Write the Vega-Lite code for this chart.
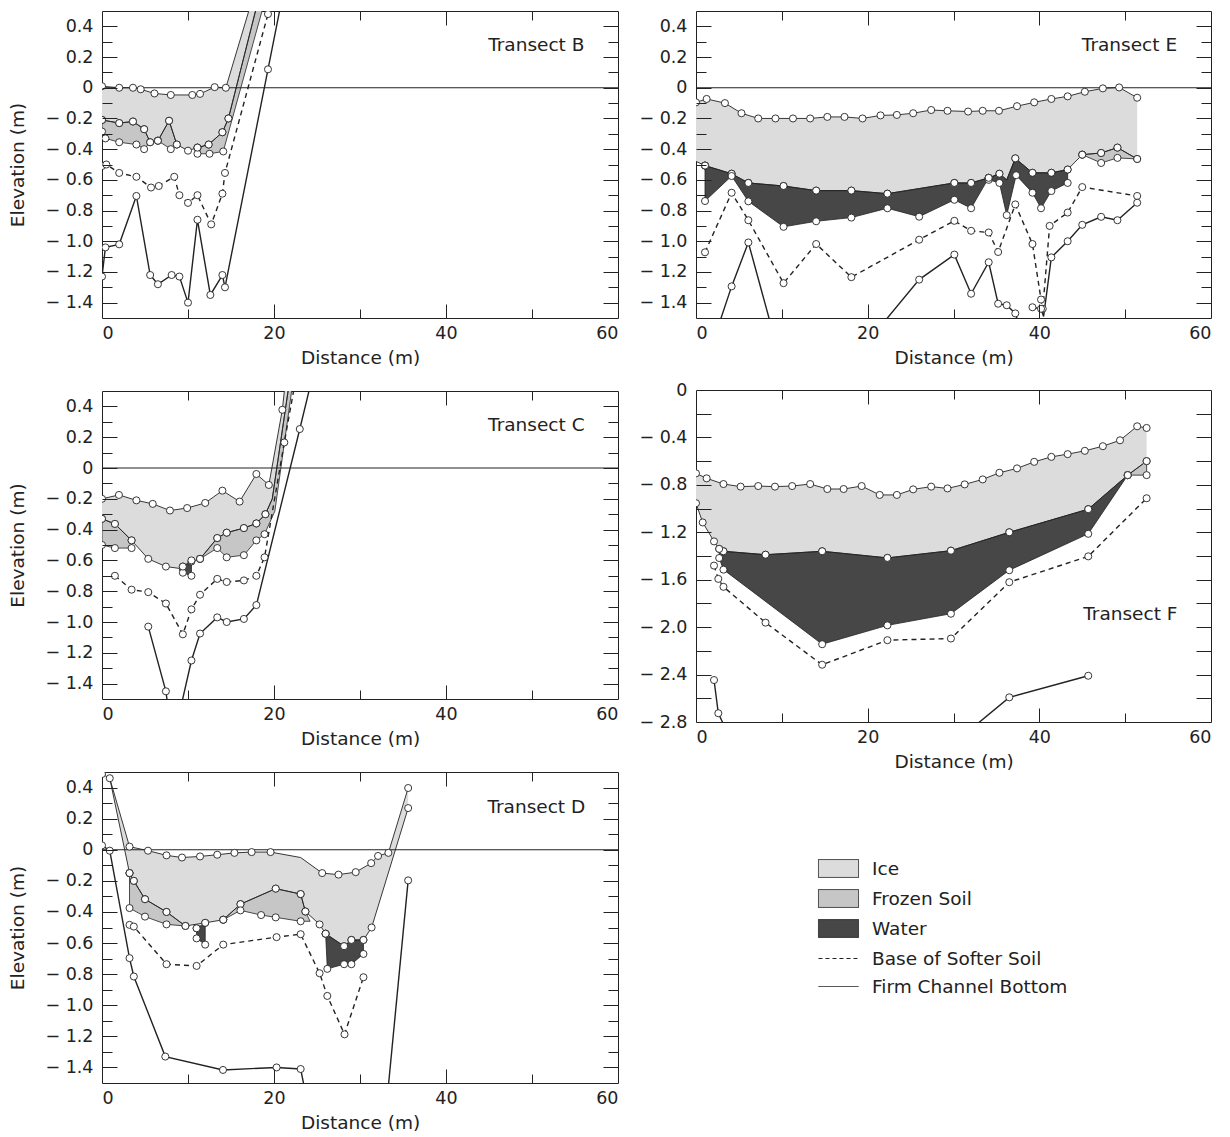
{
"$schema": "https://vega.github.io/schema/vega-lite/v6.json",
"padding": {"left": 8, "top": 10, "right": 5, "bottom": 2},
"config": {
 "font": "DejaVu Sans",
 "view": {"stroke": "#222", "strokeWidth": 1},
 "axis": {"domain": false, "grid": false, "labelFont": "DejaVu Sans", "labelFontSize": 17.5, "labelColor": "#222", "titleFont": "DejaVu Sans", "titleFontSize": 18.5, "titleFontWeight": "normal", "titleColor": "#222", "tickColor": "#222", "tickWidth": 1}
},
"datasets": {
"d": [
{"t":"B","s":"top","x":0,"y":0.01},{"t":"B","s":"top","x":2,"y":0},{"t":"B","s":"top","x":3.6,"y":0},{"t":"B","s":"top","x":4.5,"y":-0.01},{"t":"B","s":"top","x":6.1,"y":-0.037},{"t":"B","s":"top","x":8,"y":-0.047},{"t":"B","s":"top","x":10.5,"y":-0.047},{"t":"B","s":"top","x":11.4,"y":-0.04},{"t":"B","s":"top","x":13.1,"y":0.004},{"t":"B","s":"top","x":14.4,"y":0},{"t":"B","s":"top","x":17.6,"y":0.6,"n":1},
{"t":"B","s":"bot","x":18.3,"y":0.6,"n":1},{"t":"B","s":"bot","x":14.7,"y":-0.2},{"t":"B","s":"bot","x":14,"y":-0.29},{"t":"B","s":"bot","x":12.4,"y":-0.37},{"t":"B","s":"bot","x":11.1,"y":-0.39},{"t":"B","s":"bot","x":10,"y":-0.41},{"t":"B","s":"bot","x":8.7,"y":-0.37},{"t":"B","s":"bot","x":7.8,"y":-0.215},{"t":"B","s":"bot","x":6.5,"y":-0.345},{"t":"B","s":"bot","x":5.6,"y":-0.355},{"t":"B","s":"bot","x":4.9,"y":-0.27},{"t":"B","s":"bot","x":3.6,"y":-0.22},{"t":"B","s":"bot","x":2,"y":-0.23},{"t":"B","s":"bot","x":0,"y":-0.21},
{"t":"B","s":"soil1","x":0,"y":-0.21},{"t":"B","s":"soil1","x":2,"y":-0.23},{"t":"B","s":"soil1","x":3.6,"y":-0.22},{"t":"B","s":"soil1","x":4.9,"y":-0.27},{"t":"B","s":"soil1","x":5.6,"y":-0.355},{"t":"B","s":"soil1","x":4.9,"y":-0.4},{"t":"B","s":"soil1","x":4,"y":-0.37},{"t":"B","s":"soil1","x":2,"y":-0.355},{"t":"B","s":"soil1","x":0.4,"y":-0.33},{"t":"B","s":"soil1","x":0,"y":-0.285},{"t":"B","s":"soil1","x":0,"y":-0.21},
{"t":"B","s":"soil2","x":6.5,"y":-0.345},{"t":"B","s":"soil2","x":7.8,"y":-0.215},{"t":"B","s":"soil2","x":8.7,"y":-0.37},{"t":"B","s":"soil2","x":8,"y":-0.4},{"t":"B","s":"soil2","x":6.5,"y":-0.345},
{"t":"B","s":"soil3","x":11.1,"y":-0.39},{"t":"B","s":"soil3","x":12.4,"y":-0.37},{"t":"B","s":"soil3","x":14,"y":-0.29},{"t":"B","s":"soil3","x":14.7,"y":-0.2},{"t":"B","s":"soil3","x":18.3,"y":0.6,"n":1},{"t":"B","s":"soil3","x":19.1,"y":0.6,"n":1},{"t":"B","s":"soil3","x":14.1,"y":-0.415},{"t":"B","s":"soil3","x":12.5,"y":-0.43},{"t":"B","s":"soil3","x":11.1,"y":-0.43},{"t":"B","s":"soil3","x":11.1,"y":-0.39},
{"t":"B","s":"soft","x":0,"y":-0.51},{"t":"B","s":"soft","x":0.5,"y":-0.5},{"t":"B","s":"soft","x":2,"y":-0.555},{"t":"B","s":"soft","x":4,"y":-0.58},{"t":"B","s":"soft","x":5.7,"y":-0.65},{"t":"B","s":"soft","x":6.6,"y":-0.64},{"t":"B","s":"soft","x":8.4,"y":-0.58},{"t":"B","s":"soft","x":9,"y":-0.7},{"t":"B","s":"soft","x":10,"y":-0.75},{"t":"B","s":"soft","x":11.1,"y":-0.7},{"t":"B","s":"soft","x":12.7,"y":-0.89},{"t":"B","s":"soft","x":14,"y":-0.69},{"t":"B","s":"soft","x":14.3,"y":-0.555},{"t":"B","s":"soft","x":19.3,"y":0.48},{"t":"B","s":"soft","x":20,"y":0.63,"n":1},
{"t":"B","s":"firm","x":0,"y":-1.23},{"t":"B","s":"firm","x":0.4,"y":-1.04},{"t":"B","s":"firm","x":2,"y":-1.02},{"t":"B","s":"firm","x":4,"y":-0.705},{"t":"B","s":"firm","x":5.6,"y":-1.22},{"t":"B","s":"firm","x":6.5,"y":-1.28},{"t":"B","s":"firm","x":8.1,"y":-1.22},{"t":"B","s":"firm","x":9,"y":-1.23},{"t":"B","s":"firm","x":10,"y":-1.4},{"t":"B","s":"firm","x":11.1,"y":-0.86},{"t":"B","s":"firm","x":12.6,"y":-1.35},{"t":"B","s":"firm","x":14,"y":-1.22},{"t":"B","s":"firm","x":14.3,"y":-1.3},{"t":"B","s":"firm","x":19.3,"y":0.12},{"t":"B","s":"firm","x":21,"y":0.6,"n":1},

{"t":"E","s":"top","x":0,"y":-0.095},{"t":"E","s":"top","x":1.24,"y":-0.073},{"t":"E","s":"top","x":3.37,"y":-0.1},{"t":"E","s":"top","x":5.3,"y":-0.166},{"t":"E","s":"top","x":7.25,"y":-0.2},{"t":"E","s":"top","x":9.26,"y":-0.2},{"t":"E","s":"top","x":11.3,"y":-0.2},{"t":"E","s":"top","x":13.3,"y":-0.2},{"t":"E","s":"top","x":15.3,"y":-0.19},{"t":"E","s":"top","x":17.3,"y":-0.19},{"t":"E","s":"top","x":19.4,"y":-0.2},{"t":"E","s":"top","x":21.5,"y":-0.18},{"t":"E","s":"top","x":23.4,"y":-0.177},{"t":"E","s":"top","x":25.3,"y":-0.166},{"t":"E","s":"top","x":27.4,"y":-0.145},{"t":"E","s":"top","x":29.3,"y":-0.15},{"t":"E","s":"top","x":31.7,"y":-0.155},{"t":"E","s":"top","x":33.4,"y":-0.15},{"t":"E","s":"top","x":35.3,"y":-0.15},{"t":"E","s":"top","x":37.4,"y":-0.12},{"t":"E","s":"top","x":39.4,"y":-0.095},{"t":"E","s":"top","x":41.4,"y":-0.073},{"t":"E","s":"top","x":43.3,"y":-0.056},{"t":"E","s":"top","x":45.3,"y":-0.026},{"t":"E","s":"top","x":47.4,"y":-0.004},{"t":"E","s":"top","x":49.3,"y":0.002},{"t":"E","s":"top","x":51.4,"y":-0.065},
{"t":"E","s":"bot","x":51.4,"y":-0.464},{"t":"E","s":"bot","x":49.1,"y":-0.39},{"t":"E","s":"bot","x":47.2,"y":-0.425},{"t":"E","s":"bot","x":45,"y":-0.436},{"t":"E","s":"bot","x":43.3,"y":-0.533},{"t":"E","s":"bot","x":41.4,"y":-0.554},{"t":"E","s":"bot","x":39.2,"y":-0.554},{"t":"E","s":"bot","x":37.2,"y":-0.46},{"t":"E","s":"bot","x":36.2,"y":-0.6,"n":1},{"t":"E","s":"bot","x":35.35,"y":-0.56},{"t":"E","s":"bot","x":34.1,"y":-0.587},{"t":"E","s":"bot","x":32.05,"y":-0.62},{"t":"E","s":"bot","x":30.1,"y":-0.62},{"t":"E","s":"bot","x":22.3,"y":-0.69},{"t":"E","s":"bot","x":18.1,"y":-0.67},{"t":"E","s":"bot","x":14,"y":-0.67},{"t":"E","s":"bot","x":10.2,"y":-0.64},{"t":"E","s":"bot","x":6.1,"y":-0.62},{"t":"E","s":"bot","x":4.15,"y":-0.56},{"t":"E","s":"bot","x":1.05,"y":-0.507},{"t":"E","s":"bot","x":0,"y":-0.48,"n":1},
{"t":"E","s":"water1","x":1.05,"y":-0.507},{"t":"E","s":"water1","x":4.15,"y":-0.56},{"t":"E","s":"water1","x":6.1,"y":-0.62},{"t":"E","s":"water1","x":10.2,"y":-0.64},{"t":"E","s":"water1","x":14,"y":-0.67},{"t":"E","s":"water1","x":18.1,"y":-0.67},{"t":"E","s":"water1","x":22.3,"y":-0.69},{"t":"E","s":"water1","x":30.1,"y":-0.62},{"t":"E","s":"water1","x":32.05,"y":-0.62},{"t":"E","s":"water1","x":34.1,"y":-0.587},{"t":"E","s":"water1","x":32.05,"y":-0.785},{"t":"E","s":"water1","x":30.1,"y":-0.73},{"t":"E","s":"water1","x":26,"y":-0.84},{"t":"E","s":"water1","x":22.3,"y":-0.785},{"t":"E","s":"water1","x":18.1,"y":-0.846},{"t":"E","s":"water1","x":14,"y":-0.87},{"t":"E","s":"water1","x":10.2,"y":-0.906},{"t":"E","s":"water1","x":6.1,"y":-0.74},{"t":"E","s":"water1","x":4.15,"y":-0.575},{"t":"E","s":"water1","x":1.05,"y":-0.738},{"t":"E","s":"water1","x":1.05,"y":-0.507},
{"t":"E","s":"water2","x":34.1,"y":-0.587},{"t":"E","s":"water2","x":35.35,"y":-0.56},{"t":"E","s":"water2","x":36.2,"y":-0.6,"n":1},{"t":"E","s":"water2","x":37.2,"y":-0.46},{"t":"E","s":"water2","x":39.2,"y":-0.554},{"t":"E","s":"water2","x":41.4,"y":-0.554},{"t":"E","s":"water2","x":43.3,"y":-0.533},{"t":"E","s":"water2","x":43.3,"y":-0.62},{"t":"E","s":"water2","x":41.4,"y":-0.673},{"t":"E","s":"water2","x":40.2,"y":-0.785},{"t":"E","s":"water2","x":39.2,"y":-0.684},{"t":"E","s":"water2","x":37.3,"y":-0.57},{"t":"E","s":"water2","x":36.2,"y":-0.83},{"t":"E","s":"water2","x":35.35,"y":-0.62},{"t":"E","s":"water2","x":34.1,"y":-0.6},{"t":"E","s":"water2","x":34.1,"y":-0.587},
{"t":"E","s":"soil1","x":45,"y":-0.436},{"t":"E","s":"soil1","x":47.2,"y":-0.425},{"t":"E","s":"soil1","x":49.1,"y":-0.39},{"t":"E","s":"soil1","x":51.4,"y":-0.464},{"t":"E","s":"soil1","x":49.1,"y":-0.457},{"t":"E","s":"soil1","x":47.2,"y":-0.49},{"t":"E","s":"soil1","x":45,"y":-0.436},
{"t":"E","s":"soft","x":1.05,"y":-1.072},{"t":"E","s":"soft","x":4.15,"y":-0.684},{"t":"E","s":"soft","x":6.1,"y":-0.863},{"t":"E","s":"soft","x":10.2,"y":-1.273},{"t":"E","s":"soft","x":14,"y":-1.018},{"t":"E","s":"soft","x":18.1,"y":-1.234},{"t":"E","s":"soft","x":26,"y":-0.99},{"t":"E","s":"soft","x":30.1,"y":-0.867},{"t":"E","s":"soft","x":32.05,"y":-0.932},{"t":"E","s":"soft","x":34.1,"y":-0.943},{"t":"E","s":"soft","x":35.2,"y":-1.07},{"t":"E","s":"soft","x":37.2,"y":-0.76},{"t":"E","s":"soft","x":39.2,"y":-1.018},{"t":"E","s":"soft","x":40.2,"y":-1.38},{"t":"E","s":"soft","x":40.4,"y":-1.44},{"t":"E","s":"soft","x":41.2,"y":-0.9},{"t":"E","s":"soft","x":43.3,"y":-0.813},{"t":"E","s":"soft","x":45,"y":-0.647},{"t":"E","s":"soft","x":51.4,"y":-0.705},
{"t":"E","s":"firm1","x":2.8,"y":-1.52,"n":1},{"t":"E","s":"firm1","x":4.15,"y":-1.294},{"t":"E","s":"firm1","x":6.1,"y":-1.008},{"t":"E","s":"firm1","x":8.6,"y":-1.52,"n":1},
{"t":"E","s":"firm2","x":22,"y":-1.52,"n":1},{"t":"E","s":"firm2","x":26,"y":-1.25},{"t":"E","s":"firm2","x":30.1,"y":-1.087},{"t":"E","s":"firm2","x":32.05,"y":-1.342},{"t":"E","s":"firm2","x":34.1,"y":-1.137},{"t":"E","s":"firm2","x":35.2,"y":-1.407},{"t":"E","s":"firm2","x":36.2,"y":-1.417},{"t":"E","s":"firm2","x":37.2,"y":-1.47},{"t":"E","s":"firm2","x":37.5,"y":-1.52,"n":1},
{"t":"E","s":"firm3","x":39.2,"y":-1.43},{"t":"E","s":"firm3","x":40.2,"y":-1.44},{"t":"E","s":"firm3","x":40.5,"y":-1.49,"n":1},{"t":"E","s":"firm3","x":41.4,"y":-1.105},{"t":"E","s":"firm3","x":43.3,"y":-1},{"t":"E","s":"firm3","x":45,"y":-0.893},{"t":"E","s":"firm3","x":47.2,"y":-0.841},{"t":"E","s":"firm3","x":49.1,"y":-0.863},{"t":"E","s":"firm3","x":51.4,"y":-0.749},

{"t":"C","s":"top","x":0,"y":-0.2},{"t":"C","s":"top","x":1.97,"y":-0.175},{"t":"C","s":"top","x":4,"y":-0.21},{"t":"C","s":"top","x":5.9,"y":-0.233},{"t":"C","s":"top","x":7.9,"y":-0.276},{"t":"C","s":"top","x":9.9,"y":-0.26},{"t":"C","s":"top","x":12,"y":-0.227},{"t":"C","s":"top","x":14,"y":-0.147},{"t":"C","s":"top","x":16,"y":-0.218},{"t":"C","s":"top","x":17.95,"y":-0.039},{"t":"C","s":"top","x":19.4,"y":-0.11},{"t":"C","s":"top","x":20.97,"y":0.378},{"t":"C","s":"top","x":21.4,"y":0.6,"n":1},
{"t":"C","s":"bot","x":21.9,"y":0.6,"n":1},{"t":"C","s":"bot","x":19.8,"y":-0.2,"n":1},{"t":"C","s":"bot","x":19,"y":-0.3},{"t":"C","s":"bot","x":17.95,"y":-0.36},{"t":"C","s":"bot","x":16.5,"y":-0.39},{"t":"C","s":"bot","x":14.5,"y":-0.42},{"t":"C","s":"bot","x":13.4,"y":-0.455},{"t":"C","s":"bot","x":11.4,"y":-0.59},{"t":"C","s":"bot","x":10.4,"y":-0.607},{"t":"C","s":"bot","x":9.4,"y":-0.655},{"t":"C","s":"bot","x":7.43,"y":-0.64},{"t":"C","s":"bot","x":5.38,"y":-0.59},{"t":"C","s":"bot","x":3.44,"y":-0.47},{"t":"C","s":"bot","x":1.5,"y":-0.363},{"t":"C","s":"bot","x":0,"y":-0.33,"n":1},
{"t":"C","s":"soil1","x":0,"y":-0.33},{"t":"C","s":"soil1","x":1.5,"y":-0.363},{"t":"C","s":"soil1","x":3.44,"y":-0.47},{"t":"C","s":"soil1","x":3.44,"y":-0.52},{"t":"C","s":"soil1","x":1.5,"y":-0.52},{"t":"C","s":"soil1","x":0,"y":-0.5},{"t":"C","s":"soil1","x":0,"y":-0.33},
{"t":"C","s":"soil2","x":11.4,"y":-0.59},{"t":"C","s":"soil2","x":13.4,"y":-0.455},{"t":"C","s":"soil2","x":14.5,"y":-0.42},{"t":"C","s":"soil2","x":16.5,"y":-0.39},{"t":"C","s":"soil2","x":17.95,"y":-0.36},{"t":"C","s":"soil2","x":19,"y":-0.3},{"t":"C","s":"soil2","x":19.8,"y":-0.2,"n":1},{"t":"C","s":"soil2","x":21.9,"y":0.6,"n":1},{"t":"C","s":"soil2","x":22.3,"y":0.6,"n":1},{"t":"C","s":"soil2","x":20.1,"y":-0.28,"n":1},{"t":"C","s":"soil2","x":18.9,"y":-0.43},{"t":"C","s":"soil2","x":17.95,"y":-0.47},{"t":"C","s":"soil2","x":16.5,"y":-0.566},{"t":"C","s":"soil2","x":14.5,"y":-0.58},{"t":"C","s":"soil2","x":13.4,"y":-0.52},{"t":"C","s":"soil2","x":11.4,"y":-0.59},
{"t":"C","s":"water1","x":9.4,"y":-0.64},{"t":"C","s":"water1","x":10.4,"y":-0.6},{"t":"C","s":"water1","x":10.4,"y":-0.7},{"t":"C","s":"water1","x":9.4,"y":-0.68},{"t":"C","s":"water1","x":9.4,"y":-0.64},
{"t":"C","s":"soft","x":1.5,"y":-0.7},{"t":"C","s":"soft","x":3.44,"y":-0.79},{"t":"C","s":"soft","x":5.38,"y":-0.806},{"t":"C","s":"soft","x":7.43,"y":-0.88},{"t":"C","s":"soft","x":9.4,"y":-1.08},{"t":"C","s":"soft","x":10.4,"y":-0.918},{"t":"C","s":"soft","x":11.4,"y":-0.823},{"t":"C","s":"soft","x":13.4,"y":-0.72},{"t":"C","s":"soft","x":14.5,"y":-0.74},{"t":"C","s":"soft","x":16.5,"y":-0.73},{"t":"C","s":"soft","x":17.95,"y":-0.7},{"t":"C","s":"soft","x":18.9,"y":-0.58},{"t":"C","s":"soft","x":21.2,"y":0.166},{"t":"C","s":"soft","x":22.6,"y":0.6,"n":1},
{"t":"C","s":"firm1","x":5.38,"y":-1.03},{"t":"C","s":"firm1","x":7.43,"y":-1.45},{"t":"C","s":"firm1","x":7.6,"y":-1.52,"n":1},
{"t":"C","s":"firm2","x":9.3,"y":-1.52,"n":1},{"t":"C","s":"firm2","x":10.4,"y":-1.25},{"t":"C","s":"firm2","x":11.4,"y":-1.075},{"t":"C","s":"firm2","x":13.4,"y":-0.97},{"t":"C","s":"firm2","x":14.5,"y":-1},{"t":"C","s":"firm2","x":16.5,"y":-0.98},{"t":"C","s":"firm2","x":17.95,"y":-0.89},{"t":"C","s":"firm2","x":23,"y":0.253},{"t":"C","s":"firm2","x":24.5,"y":0.6,"n":1},

{"t":"F","s":"top","x":0,"y":-0.703},{"t":"F","s":"top","x":1.24,"y":-0.745},{"t":"F","s":"top","x":3.2,"y":-0.793},{"t":"F","s":"top","x":5.2,"y":-0.815},{"t":"F","s":"top","x":7.25,"y":-0.81},{"t":"F","s":"top","x":9.2,"y":-0.815},{"t":"F","s":"top","x":11.2,"y":-0.81},{"t":"F","s":"top","x":13.3,"y":-0.793},{"t":"F","s":"top","x":15.3,"y":-0.835},{"t":"F","s":"top","x":17.2,"y":-0.835},{"t":"F","s":"top","x":19.3,"y":-0.81},{"t":"F","s":"top","x":21.4,"y":-0.885},{"t":"F","s":"top","x":23.4,"y":-0.885},{"t":"F","s":"top","x":25.3,"y":-0.838},{"t":"F","s":"top","x":27.4,"y":-0.815},{"t":"F","s":"top","x":29.3,"y":-0.83},{"t":"F","s":"top","x":31.3,"y":-0.796},{"t":"F","s":"top","x":33.4,"y":-0.754},{"t":"F","s":"top","x":35.35,"y":-0.698},{"t":"F","s":"top","x":37.4,"y":-0.661},{"t":"F","s":"top","x":39.4,"y":-0.606},{"t":"F","s":"top","x":41.4,"y":-0.564},{"t":"F","s":"top","x":43.3,"y":-0.541},{"t":"F","s":"top","x":45.3,"y":-0.513},{"t":"F","s":"top","x":47.4,"y":-0.474},{"t":"F","s":"top","x":49.4,"y":-0.424},{"t":"F","s":"top","x":51.4,"y":-0.306},{"t":"F","s":"top","x":52.5,"y":-0.32},
{"t":"F","s":"bot","x":52.5,"y":-0.6},{"t":"F","s":"bot","x":50.3,"y":-0.718},{"t":"F","s":"bot","x":45.7,"y":-1.005},{"t":"F","s":"bot","x":36.5,"y":-1.2},{"t":"F","s":"bot","x":29.7,"y":-1.355},{"t":"F","s":"bot","x":22.3,"y":-1.416},{"t":"F","s":"bot","x":14.7,"y":-1.36},{"t":"F","s":"bot","x":8.1,"y":-1.389},{"t":"F","s":"bot","x":3.2,"y":-1.36},{"t":"F","s":"bot","x":2.7,"y":-1.34,"n":1},{"t":"F","s":"bot","x":2.1,"y":-1.277},{"t":"F","s":"bot","x":0.78,"y":-1.117},{"t":"F","s":"bot","x":0,"y":-0.955},
{"t":"F","s":"water1","x":2.7,"y":-1.34},{"t":"F","s":"water1","x":3.2,"y":-1.36},{"t":"F","s":"water1","x":8.1,"y":-1.389},{"t":"F","s":"water1","x":14.7,"y":-1.36},{"t":"F","s":"water1","x":22.3,"y":-1.416},{"t":"F","s":"water1","x":29.7,"y":-1.355},{"t":"F","s":"water1","x":36.5,"y":-1.2},{"t":"F","s":"water1","x":45.7,"y":-1.005},{"t":"F","s":"water1","x":50.3,"y":-0.718},{"t":"F","s":"water1","x":45.7,"y":-1.213},{"t":"F","s":"water1","x":36.5,"y":-1.52},{"t":"F","s":"water1","x":29.7,"y":-1.887},{"t":"F","s":"water1","x":22.3,"y":-1.985},{"t":"F","s":"water1","x":14.7,"y":-2.144},{"t":"F","s":"water1","x":3.2,"y":-1.515},{"t":"F","s":"water1","x":2.7,"y":-1.417},{"t":"F","s":"water1","x":2.7,"y":-1.34},
{"t":"F","s":"soil1","x":50.3,"y":-0.718},{"t":"F","s":"soil1","x":52.5,"y":-0.6},{"t":"F","s":"soil1","x":52.5,"y":-0.718},{"t":"F","s":"soil1","x":50.3,"y":-0.718},
{"t":"F","s":"soft","x":2.1,"y":-1.481},{"t":"F","s":"soft","x":2.6,"y":-1.593},{"t":"F","s":"soft","x":3.2,"y":-1.66},{"t":"F","s":"soft","x":8.1,"y":-1.962},{"t":"F","s":"soft","x":14.7,"y":-2.317},{"t":"F","s":"soft","x":22.3,"y":-2.11},{"t":"F","s":"soft","x":29.7,"y":-2.096},{"t":"F","s":"soft","x":36.5,"y":-1.621},{"t":"F","s":"soft","x":45.7,"y":-1.403},{"t":"F","s":"soft","x":52.5,"y":-0.913},
{"t":"F","s":"firm1","x":2.1,"y":-2.446},{"t":"F","s":"firm1","x":2.6,"y":-2.726},{"t":"F","s":"firm1","x":3.4,"y":-2.85,"n":1},
{"t":"F","s":"firm2","x":32.2,"y":-2.85,"n":1},{"t":"F","s":"firm2","x":36.5,"y":-2.592},{"t":"F","s":"firm2","x":45.7,"y":-2.41},

{"t":"D","s":"top","x":0,"y":0.487},{"t":"D","s":"top","x":0.9,"y":0.46},{"t":"D","s":"top","x":3.2,"y":0.02},{"t":"D","s":"top","x":5.35,"y":-0.006},{"t":"D","s":"top","x":7.5,"y":-0.036},{"t":"D","s":"top","x":9.3,"y":-0.05},{"t":"D","s":"top","x":11.4,"y":-0.043},{"t":"D","s":"top","x":13.4,"y":-0.032},{"t":"D","s":"top","x":15.4,"y":-0.02},{"t":"D","s":"top","x":17.4,"y":-0.015},{"t":"D","s":"top","x":19.6,"y":-0.015},{"t":"D","s":"top","x":23.1,"y":-0.05,"n":1},{"t":"D","s":"top","x":25.6,"y":-0.15},{"t":"D","s":"top","x":27.5,"y":-0.16},{"t":"D","s":"top","x":29.5,"y":-0.144},{"t":"D","s":"top","x":31.3,"y":-0.086},{"t":"D","s":"top","x":32.1,"y":-0.04},{"t":"D","s":"top","x":33.3,"y":-0.02},{"t":"D","s":"top","x":35.6,"y":0.397},
{"t":"D","s":"bot","x":35.6,"y":0.268},{"t":"D","s":"bot","x":31.35,"y":-0.5},{"t":"D","s":"bot","x":30.4,"y":-0.58},{"t":"D","s":"bot","x":29,"y":-0.58},{"t":"D","s":"bot","x":28.15,"y":-0.62},{"t":"D","s":"bot","x":26,"y":-0.54},{"t":"D","s":"bot","x":25.3,"y":-0.48},{"t":"D","s":"bot","x":23.65,"y":-0.397},{"t":"D","s":"bot","x":23.1,"y":-0.285},{"t":"D","s":"bot","x":20.2,"y":-0.25},{"t":"D","s":"bot","x":16.1,"y":-0.35},{"t":"D","s":"bot","x":14.1,"y":-0.45},{"t":"D","s":"bot","x":12,"y":-0.47},{"t":"D","s":"bot","x":9.7,"y":-0.49},{"t":"D","s":"bot","x":7.5,"y":-0.4},{"t":"D","s":"bot","x":5,"y":-0.318},{"t":"D","s":"bot","x":3.7,"y":-0.2},{"t":"D","s":"bot","x":3.2,"y":-0.15},{"t":"D","s":"bot","x":0.9,"y":0.46,"n":1},
{"t":"D","s":"soil1","x":3.2,"y":-0.15},{"t":"D","s":"soil1","x":3.7,"y":-0.2},{"t":"D","s":"soil1","x":5,"y":-0.318},{"t":"D","s":"soil1","x":7.5,"y":-0.4},{"t":"D","s":"soil1","x":9.7,"y":-0.49},{"t":"D","s":"soil1","x":7.5,"y":-0.48},{"t":"D","s":"soil1","x":5,"y":-0.43},{"t":"D","s":"soil1","x":3.2,"y":-0.375},{"t":"D","s":"soil1","x":3.2,"y":-0.15},
{"t":"D","s":"soil2","x":14.1,"y":-0.45},{"t":"D","s":"soil2","x":16.1,"y":-0.35},{"t":"D","s":"soil2","x":20.2,"y":-0.25},{"t":"D","s":"soil2","x":23.1,"y":-0.285},{"t":"D","s":"soil2","x":23.65,"y":-0.397},{"t":"D","s":"soil2","x":24.2,"y":-0.46,"n":1},{"t":"D","s":"soil2","x":23.1,"y":-0.46},{"t":"D","s":"soil2","x":20.2,"y":-0.435},{"t":"D","s":"soil2","x":18.5,"y":-0.42},{"t":"D","s":"soil2","x":16.1,"y":-0.39},{"t":"D","s":"soil2","x":14.1,"y":-0.45},
{"t":"D","s":"water1","x":11,"y":-0.505},{"t":"D","s":"water1","x":12,"y":-0.47},{"t":"D","s":"water1","x":12,"y":-0.61},{"t":"D","s":"water1","x":11,"y":-0.57},{"t":"D","s":"water1","x":11,"y":-0.505},
{"t":"D","s":"water2","x":26,"y":-0.54},{"t":"D","s":"water2","x":28.15,"y":-0.62},{"t":"D","s":"water2","x":29,"y":-0.58},{"t":"D","s":"water2","x":30.4,"y":-0.58},{"t":"D","s":"water2","x":30.4,"y":-0.67},{"t":"D","s":"water2","x":29,"y":-0.736},{"t":"D","s":"water2","x":28.15,"y":-0.736},{"t":"D","s":"water2","x":26.2,"y":-0.766},{"t":"D","s":"water2","x":26,"y":-0.54},
{"t":"D","s":"soft","x":3.2,"y":-0.483},{"t":"D","s":"soft","x":3.7,"y":-0.494},{"t":"D","s":"soft","x":7.5,"y":-0.736},{"t":"D","s":"soft","x":11,"y":-0.747},{"t":"D","s":"soft","x":14.1,"y":-0.61},{"t":"D","s":"soft","x":20.3,"y":-0.562},{"t":"D","s":"soft","x":23.1,"y":-0.543},{"t":"D","s":"soft","x":25.3,"y":-0.794},{"t":"D","s":"soft","x":26.2,"y":-0.94},{"t":"D","s":"soft","x":28.2,"y":-1.187},{"t":"D","s":"soft","x":30.4,"y":-0.82},
{"t":"D","s":"firm1","x":0,"y":0.028},{"t":"D","s":"firm1","x":0.9,"y":-0.006},{"t":"D","s":"firm1","x":3.2,"y":-0.697},{"t":"D","s":"firm1","x":3.7,"y":-0.815},{"t":"D","s":"firm1","x":7.36,"y":-1.33},{"t":"D","s":"firm1","x":14.07,"y":-1.416},{"t":"D","s":"firm1","x":20.3,"y":-1.4},{"t":"D","s":"firm1","x":23.1,"y":-1.41},{"t":"D","s":"firm1","x":23.5,"y":-1.52,"n":1},
{"t":"D","s":"firm2","x":33.3,"y":-1.52,"n":1},{"t":"D","s":"firm2","x":35.6,"y":-0.197}
]
},
"hconcat": [
{"vconcat": [
 {"width": 516, "height": 307, "data": {"name": "d"}, "transform": [{"filter": "datum.t=='B'"}],
  "resolve": {"axis": {"x": "independent", "y": "independent"}},
  "layer": [
   {"transform": [{"filter": "datum.s=='top'||datum.s=='bot'"}], "mark": {"type": "line", "fill": "#dcdcdc", "strokeWidth": 0, "clip": true},
    "encoding": {"order": {"value": null},
     "x": {"field": "x", "type": "quantitative", "scale": {"domain": [0, 60], "nice": false, "zero": false}, "axis": {"orient": "bottom", "values": [0, 20, 40, 60], "ticks": false, "labelPadding": 6, "title": "Distance (m)", "titlePadding": 7}},
     "y": {"field": "y", "type": "quantitative", "scale": {"domain": [-1.5, 0.5], "nice": false, "zero": false}, "axis": {"orient": "left", "values": [-1.4, -1.2, -1, -0.8, -0.6, -0.4, -0.2, 0, 0.2, 0.4], "ticks": false, "labelPadding": 9, "labelExpr": "datum.value == 0 ? '0' : datum.value < 0 ? '− ' + format(-datum.value, '.1f') : format(datum.value, '.1f')", "title": "Elevation (m)", "titlePadding": 17}}}},
   {"transform": [{"filter": "datum.s=='soil1'||datum.s=='soil2'||datum.s=='soil3'"}], "mark": {"type": "line", "fill": "#c6c6c6", "stroke": "#222", "strokeWidth": 0.8, "clip": true},
    "encoding": {"order": {"value": null}, "detail": {"field": "s"}, "x": {"field": "x", "type": "quantitative", "axis": null}, "y": {"field": "y", "type": "quantitative", "axis": null}}},
   {"data": {"values": [{"t": "B", "y": 0}]}, "mark": {"type": "rule", "color": "#222", "strokeWidth": 1}, "encoding": {"y": {"field": "y", "type": "quantitative", "axis": null}}},
   {"transform": [{"filter": "datum.s=='top'||datum.s=='bot'"}], "mark": {"type": "line", "color": "#222", "strokeWidth": 0.9, "clip": true},
    "encoding": {"order": {"value": null}, "detail": {"field": "s"},
     "x": {"field": "x", "type": "quantitative", "axis": {"orient": "bottom", "values": [20, 40], "labels": false, "tickSize": -14, "title": null, "zindex": 1}},
     "y": {"field": "y", "type": "quantitative", "axis": {"orient": "left", "values": [-1.4, -1.2, -1, -0.8, -0.6, -0.4, -0.2, 0, 0.2, 0.4], "labels": false, "tickSize": -15, "title": null, "zindex": 1}}}},
   {"transform": [{"filter": "datum.s=='soft'"}], "mark": {"type": "line", "color": "#222", "strokeWidth": 1.4, "strokeDash": [5, 4], "clip": true},
    "encoding": {"order": {"value": null},
     "x": {"field": "x", "type": "quantitative", "axis": {"orient": "bottom", "values": [10, 30, 50], "labels": false, "tickSize": -9, "title": null, "zindex": 1}},
     "y": {"field": "y", "type": "quantitative", "axis": {"orient": "left", "values": [-1.3, -1.1, -0.9, -0.7, -0.5, -0.3, -0.1, 0.1, 0.3], "labels": false, "tickSize": -10, "title": null, "zindex": 1}}}},
   {"transform": [{"filter": "datum.s=='firm'||datum.s=='firm1'||datum.s=='firm2'||datum.s=='firm3'"}], "mark": {"type": "line", "color": "#222", "strokeWidth": 1.4, "clip": true},
    "encoding": {"order": {"value": null}, "detail": {"field": "s"},
     "x": {"field": "x", "type": "quantitative", "axis": {"orient": "top", "values": [20, 40], "labels": false, "tickSize": -14, "title": null, "zindex": 1}},
     "y": {"field": "y", "type": "quantitative", "axis": {"orient": "right", "values": [-1.4, -1.2, -1, -0.8, -0.6, -0.4, -0.2, 0, 0.2, 0.4], "labels": false, "tickSize": -15, "title": null, "zindex": 1}}}},
   {"transform": [{"filter": "!datum.n"}], "mark": {"type": "point", "shape": "circle", "filled": true, "fill": "white", "stroke": "#222", "strokeWidth": 0.9, "size": 50, "opacity": 1, "clip": true},
    "encoding": {
     "x": {"field": "x", "type": "quantitative", "axis": {"orient": "top", "values": [10, 30, 50], "labels": false, "tickSize": -9, "title": null, "zindex": 1}},
     "y": {"field": "y", "type": "quantitative", "axis": {"orient": "right", "values": [-1.3, -1.1, -0.9, -0.7, -0.5, -0.3, -0.1, 0.1, 0.3], "labels": false, "tickSize": -10, "title": null, "zindex": 1}}}},
   {"data": {"values": [{"t": "B", "x": 50.5, "y": 0.28, "label": "Transect B"}]}, "mark": {"type": "text", "fontSize": 18.5, "color": "#222"},
    "encoding": {"x": {"field": "x", "type": "quantitative", "axis": null}, "y": {"field": "y", "type": "quantitative", "axis": null}, "text": {"field": "label"}}}
  ]},
 {"width": 516, "height": 308, "data": {"name": "d"}, "transform": [{"filter": "datum.t=='C'"}],
  "resolve": {"axis": {"x": "independent", "y": "independent"}},
  "layer": [
   {"transform": [{"filter": "datum.s=='top'||datum.s=='bot'"}], "mark": {"type": "line", "fill": "#dcdcdc", "strokeWidth": 0, "clip": true},
    "encoding": {"order": {"value": null},
     "x": {"field": "x", "type": "quantitative", "scale": {"domain": [0, 60], "nice": false, "zero": false}, "axis": {"orient": "bottom", "values": [0, 20, 40, 60], "ticks": false, "labelPadding": 6, "title": "Distance (m)", "titlePadding": 7}},
     "y": {"field": "y", "type": "quantitative", "scale": {"domain": [-1.5, 0.5], "nice": false, "zero": false}, "axis": {"orient": "left", "values": [-1.4, -1.2, -1, -0.8, -0.6, -0.4, -0.2, 0, 0.2, 0.4], "ticks": false, "labelPadding": 9, "labelExpr": "datum.value == 0 ? '0' : datum.value < 0 ? '− ' + format(-datum.value, '.1f') : format(datum.value, '.1f')", "title": "Elevation (m)", "titlePadding": 17}}}},
   {"transform": [{"filter": "datum.s=='soil1'||datum.s=='soil2'||datum.s=='soil3'"}], "mark": {"type": "line", "fill": "#c6c6c6", "stroke": "#222", "strokeWidth": 0.8, "clip": true},
    "encoding": {"order": {"value": null}, "detail": {"field": "s"}, "x": {"field": "x", "type": "quantitative", "axis": null}, "y": {"field": "y", "type": "quantitative", "axis": null}}},
   {"transform": [{"filter": "datum.s=='water1'||datum.s=='water2'"}], "mark": {"type": "line", "fill": "#474747", "stroke": "#222", "strokeWidth": 0.8, "clip": true},
    "encoding": {"order": {"value": null}, "detail": {"field": "s"}, "x": {"field": "x", "type": "quantitative", "axis": null}, "y": {"field": "y", "type": "quantitative", "axis": null}}},
   {"data": {"values": [{"t": "C", "y": 0}]}, "mark": {"type": "rule", "color": "#222", "strokeWidth": 1}, "encoding": {"y": {"field": "y", "type": "quantitative", "axis": null}}},
   {"transform": [{"filter": "datum.s=='top'||datum.s=='bot'"}], "mark": {"type": "line", "color": "#222", "strokeWidth": 0.9, "clip": true},
    "encoding": {"order": {"value": null}, "detail": {"field": "s"},
     "x": {"field": "x", "type": "quantitative", "axis": {"orient": "bottom", "values": [20, 40], "labels": false, "tickSize": -14, "title": null, "zindex": 1}},
     "y": {"field": "y", "type": "quantitative", "axis": {"orient": "left", "values": [-1.4, -1.2, -1, -0.8, -0.6, -0.4, -0.2, 0, 0.2, 0.4], "labels": false, "tickSize": -15, "title": null, "zindex": 1}}}},
   {"transform": [{"filter": "datum.s=='soft'"}], "mark": {"type": "line", "color": "#222", "strokeWidth": 1.4, "strokeDash": [5, 4], "clip": true},
    "encoding": {"order": {"value": null},
     "x": {"field": "x", "type": "quantitative", "axis": {"orient": "bottom", "values": [10, 30, 50], "labels": false, "tickSize": -9, "title": null, "zindex": 1}},
     "y": {"field": "y", "type": "quantitative", "axis": {"orient": "left", "values": [-1.3, -1.1, -0.9, -0.7, -0.5, -0.3, -0.1, 0.1, 0.3], "labels": false, "tickSize": -10, "title": null, "zindex": 1}}}},
   {"transform": [{"filter": "datum.s=='firm'||datum.s=='firm1'||datum.s=='firm2'||datum.s=='firm3'"}], "mark": {"type": "line", "color": "#222", "strokeWidth": 1.4, "clip": true},
    "encoding": {"order": {"value": null}, "detail": {"field": "s"},
     "x": {"field": "x", "type": "quantitative", "axis": {"orient": "top", "values": [20, 40], "labels": false, "tickSize": -14, "title": null, "zindex": 1}},
     "y": {"field": "y", "type": "quantitative", "axis": {"orient": "right", "values": [-1.4, -1.2, -1, -0.8, -0.6, -0.4, -0.2, 0, 0.2, 0.4], "labels": false, "tickSize": -15, "title": null, "zindex": 1}}}},
   {"transform": [{"filter": "!datum.n"}], "mark": {"type": "point", "shape": "circle", "filled": true, "fill": "white", "stroke": "#222", "strokeWidth": 0.9, "size": 50, "opacity": 1, "clip": true},
    "encoding": {
     "x": {"field": "x", "type": "quantitative", "axis": {"orient": "top", "values": [10, 30, 50], "labels": false, "tickSize": -9, "title": null, "zindex": 1}},
     "y": {"field": "y", "type": "quantitative", "axis": {"orient": "right", "values": [-1.3, -1.1, -0.9, -0.7, -0.5, -0.3, -0.1, 0.1, 0.3], "labels": false, "tickSize": -10, "title": null, "zindex": 1}}}},
   {"data": {"values": [{"t": "C", "x": 50.5, "y": 0.28, "label": "Transect C"}]}, "mark": {"type": "text", "fontSize": 18.5, "color": "#222"},
    "encoding": {"x": {"field": "x", "type": "quantitative", "axis": null}, "y": {"field": "y", "type": "quantitative", "axis": null}, "text": {"field": "label"}}}
  ]},
 {"width": 516, "height": 311, "data": {"name": "d"}, "transform": [{"filter": "datum.t=='D'"}],
  "resolve": {"axis": {"x": "independent", "y": "independent"}},
  "layer": [
   {"transform": [{"filter": "datum.s=='top'||datum.s=='bot'"}], "mark": {"type": "line", "fill": "#dcdcdc", "strokeWidth": 0, "clip": true},
    "encoding": {"order": {"value": null},
     "x": {"field": "x", "type": "quantitative", "scale": {"domain": [0, 60], "nice": false, "zero": false}, "axis": {"orient": "bottom", "values": [0, 20, 40, 60], "ticks": false, "labelPadding": 6, "title": "Distance (m)", "titlePadding": 7}},
     "y": {"field": "y", "type": "quantitative", "scale": {"domain": [-1.5, 0.5], "nice": false, "zero": false}, "axis": {"orient": "left", "values": [-1.4, -1.2, -1, -0.8, -0.6, -0.4, -0.2, 0, 0.2, 0.4], "ticks": false, "labelPadding": 9, "labelExpr": "datum.value == 0 ? '0' : datum.value < 0 ? '− ' + format(-datum.value, '.1f') : format(datum.value, '.1f')", "title": "Elevation (m)", "titlePadding": 17}}}},
   {"transform": [{"filter": "datum.s=='soil1'||datum.s=='soil2'||datum.s=='soil3'"}], "mark": {"type": "line", "fill": "#c6c6c6", "stroke": "#222", "strokeWidth": 0.8, "clip": true},
    "encoding": {"order": {"value": null}, "detail": {"field": "s"}, "x": {"field": "x", "type": "quantitative", "axis": null}, "y": {"field": "y", "type": "quantitative", "axis": null}}},
   {"transform": [{"filter": "datum.s=='water1'||datum.s=='water2'"}], "mark": {"type": "line", "fill": "#474747", "stroke": "#222", "strokeWidth": 0.8, "clip": true},
    "encoding": {"order": {"value": null}, "detail": {"field": "s"}, "x": {"field": "x", "type": "quantitative", "axis": null}, "y": {"field": "y", "type": "quantitative", "axis": null}}},
   {"data": {"values": [{"t": "D", "y": 0}]}, "mark": {"type": "rule", "color": "#222", "strokeWidth": 1}, "encoding": {"y": {"field": "y", "type": "quantitative", "axis": null}}},
   {"transform": [{"filter": "datum.s=='top'||datum.s=='bot'"}], "mark": {"type": "line", "color": "#222", "strokeWidth": 0.9, "clip": true},
    "encoding": {"order": {"value": null}, "detail": {"field": "s"},
     "x": {"field": "x", "type": "quantitative", "axis": {"orient": "bottom", "values": [20, 40], "labels": false, "tickSize": -14, "title": null, "zindex": 1}},
     "y": {"field": "y", "type": "quantitative", "axis": {"orient": "left", "values": [-1.4, -1.2, -1, -0.8, -0.6, -0.4, -0.2, 0, 0.2, 0.4], "labels": false, "tickSize": -15, "title": null, "zindex": 1}}}},
   {"transform": [{"filter": "datum.s=='soft'"}], "mark": {"type": "line", "color": "#222", "strokeWidth": 1.4, "strokeDash": [5, 4], "clip": true},
    "encoding": {"order": {"value": null},
     "x": {"field": "x", "type": "quantitative", "axis": {"orient": "bottom", "values": [10, 30, 50], "labels": false, "tickSize": -9, "title": null, "zindex": 1}},
     "y": {"field": "y", "type": "quantitative", "axis": {"orient": "left", "values": [-1.3, -1.1, -0.9, -0.7, -0.5, -0.3, -0.1, 0.1, 0.3], "labels": false, "tickSize": -10, "title": null, "zindex": 1}}}},
   {"transform": [{"filter": "datum.s=='firm'||datum.s=='firm1'||datum.s=='firm2'||datum.s=='firm3'"}], "mark": {"type": "line", "color": "#222", "strokeWidth": 1.4, "clip": true},
    "encoding": {"order": {"value": null}, "detail": {"field": "s"},
     "x": {"field": "x", "type": "quantitative", "axis": {"orient": "top", "values": [20, 40], "labels": false, "tickSize": -14, "title": null, "zindex": 1}},
     "y": {"field": "y", "type": "quantitative", "axis": {"orient": "right", "values": [-1.4, -1.2, -1, -0.8, -0.6, -0.4, -0.2, 0, 0.2, 0.4], "labels": false, "tickSize": -15, "title": null, "zindex": 1}}}},
   {"transform": [{"filter": "!datum.n"}], "mark": {"type": "point", "shape": "circle", "filled": true, "fill": "white", "stroke": "#222", "strokeWidth": 0.9, "size": 50, "opacity": 1, "clip": true},
    "encoding": {
     "x": {"field": "x", "type": "quantitative", "axis": {"orient": "top", "values": [10, 30, 50], "labels": false, "tickSize": -9, "title": null, "zindex": 1}},
     "y": {"field": "y", "type": "quantitative", "axis": {"orient": "right", "values": [-1.3, -1.1, -0.9, -0.7, -0.5, -0.3, -0.1, 0.1, 0.3], "labels": false, "tickSize": -10, "title": null, "zindex": 1}}}},
   {"data": {"values": [{"t": "D", "x": 50.5, "y": 0.277, "label": "Transect D"}]}, "mark": {"type": "text", "fontSize": 18.5, "color": "#222"},
    "encoding": {"x": {"field": "x", "type": "quantitative", "axis": null}, "y": {"field": "y", "type": "quantitative", "axis": null}, "text": {"field": "label"}}}
  ]}
 ], "spacing": 22},
{"vconcat": [
 {"width": 515, "height": 307, "data": {"name": "d"}, "transform": [{"filter": "datum.t=='E'"}],
  "resolve": {"axis": {"x": "independent", "y": "independent"}},
  "layer": [
   {"transform": [{"filter": "datum.s=='top'||datum.s=='bot'"}], "mark": {"type": "line", "fill": "#dcdcdc", "strokeWidth": 0, "clip": true},
    "encoding": {"order": {"value": null},
     "x": {"field": "x", "type": "quantitative", "scale": {"domain": [0, 60], "nice": false, "zero": false}, "axis": {"orient": "bottom", "values": [0, 20, 40, 60], "ticks": false, "labelPadding": 6, "title": "Distance (m)", "titlePadding": 7}},
     "y": {"field": "y", "type": "quantitative", "scale": {"domain": [-1.5, 0.5], "nice": false, "zero": false}, "axis": {"orient": "left", "values": [-1.4, -1.2, -1, -0.8, -0.6, -0.4, -0.2, 0, 0.2, 0.4], "ticks": false, "labelPadding": 9, "labelExpr": "datum.value == 0 ? '0' : datum.value < 0 ? '− ' + format(-datum.value, '.1f') : format(datum.value, '.1f')", "title": null}}}},
   {"transform": [{"filter": "datum.s=='soil1'||datum.s=='soil2'||datum.s=='soil3'"}], "mark": {"type": "line", "fill": "#c6c6c6", "stroke": "#222", "strokeWidth": 0.8, "clip": true},
    "encoding": {"order": {"value": null}, "detail": {"field": "s"}, "x": {"field": "x", "type": "quantitative", "axis": null}, "y": {"field": "y", "type": "quantitative", "axis": null}}},
   {"transform": [{"filter": "datum.s=='water1'||datum.s=='water2'"}], "mark": {"type": "line", "fill": "#474747", "stroke": "#222", "strokeWidth": 0.8, "clip": true},
    "encoding": {"order": {"value": null}, "detail": {"field": "s"}, "x": {"field": "x", "type": "quantitative", "axis": null}, "y": {"field": "y", "type": "quantitative", "axis": null}}},
   {"data": {"values": [{"t": "E", "y": 0}]}, "mark": {"type": "rule", "color": "#222", "strokeWidth": 1}, "encoding": {"y": {"field": "y", "type": "quantitative", "axis": null}}},
   {"transform": [{"filter": "datum.s=='top'||datum.s=='bot'"}], "mark": {"type": "line", "color": "#222", "strokeWidth": 0.9, "clip": true},
    "encoding": {"order": {"value": null}, "detail": {"field": "s"},
     "x": {"field": "x", "type": "quantitative", "axis": {"orient": "bottom", "values": [20, 40], "labels": false, "tickSize": -14, "title": null, "zindex": 1}},
     "y": {"field": "y", "type": "quantitative", "axis": {"orient": "left", "values": [-1.4, -1.2, -1, -0.8, -0.6, -0.4, -0.2, 0, 0.2, 0.4], "labels": false, "tickSize": -15, "title": null, "zindex": 1}}}},
   {"transform": [{"filter": "datum.s=='soft'"}], "mark": {"type": "line", "color": "#222", "strokeWidth": 1.4, "strokeDash": [5, 4], "clip": true},
    "encoding": {"order": {"value": null},
     "x": {"field": "x", "type": "quantitative", "axis": {"orient": "bottom", "values": [10, 30, 50], "labels": false, "tickSize": -9, "title": null, "zindex": 1}},
     "y": {"field": "y", "type": "quantitative", "axis": {"orient": "left", "values": [-1.3, -1.1, -0.9, -0.7, -0.5, -0.3, -0.1, 0.1, 0.3], "labels": false, "tickSize": -10, "title": null, "zindex": 1}}}},
   {"transform": [{"filter": "datum.s=='firm'||datum.s=='firm1'||datum.s=='firm2'||datum.s=='firm3'"}], "mark": {"type": "line", "color": "#222", "strokeWidth": 1.4, "clip": true},
    "encoding": {"order": {"value": null}, "detail": {"field": "s"},
     "x": {"field": "x", "type": "quantitative", "axis": {"orient": "top", "values": [20, 40], "labels": false, "tickSize": -14, "title": null, "zindex": 1}},
     "y": {"field": "y", "type": "quantitative", "axis": {"orient": "right", "values": [-1.4, -1.2, -1, -0.8, -0.6, -0.4, -0.2, 0, 0.2, 0.4], "labels": false, "tickSize": -15, "title": null, "zindex": 1}}}},
   {"transform": [{"filter": "!datum.n"}], "mark": {"type": "point", "shape": "circle", "filled": true, "fill": "white", "stroke": "#222", "strokeWidth": 0.9, "size": 50, "opacity": 1, "clip": true},
    "encoding": {
     "x": {"field": "x", "type": "quantitative", "axis": {"orient": "top", "values": [10, 30, 50], "labels": false, "tickSize": -9, "title": null, "zindex": 1}},
     "y": {"field": "y", "type": "quantitative", "axis": {"orient": "right", "values": [-1.3, -1.1, -0.9, -0.7, -0.5, -0.3, -0.1, 0.1, 0.3], "labels": false, "tickSize": -10, "title": null, "zindex": 1}}}},
   {"data": {"values": [{"t": "E", "x": 50.5, "y": 0.28, "label": "Transect E"}]}, "mark": {"type": "text", "fontSize": 18.5, "color": "#222"},
    "encoding": {"x": {"field": "x", "type": "quantitative", "axis": null}, "y": {"field": "y", "type": "quantitative", "axis": null}, "text": {"field": "label"}}}
  ]},
 {"width": 515, "height": 332, "data": {"name": "d"}, "transform": [{"filter": "datum.t=='F'"}],
  "resolve": {"axis": {"x": "independent", "y": "independent"}},
  "layer": [
   {"transform": [{"filter": "datum.s=='top'||datum.s=='bot'"}], "mark": {"type": "line", "fill": "#dcdcdc", "strokeWidth": 0, "clip": true},
    "encoding": {"order": {"value": null},
     "x": {"field": "x", "type": "quantitative", "scale": {"domain": [0, 60], "nice": false, "zero": false}, "axis": {"orient": "bottom", "values": [0, 20, 40, 60], "ticks": false, "labelPadding": 6, "title": "Distance (m)", "titlePadding": 7}},
     "y": {"field": "y", "type": "quantitative", "scale": {"domain": [-2.8, 0], "nice": false, "zero": false}, "axis": {"orient": "left", "values": [-2.8, -2.4, -2, -1.6, -1.2, -0.8, -0.4, 0], "ticks": false, "labelPadding": 9, "labelExpr": "datum.value == 0 ? '0' : '− ' + format(-datum.value, '.1f')", "title": null}}}},
   {"transform": [{"filter": "datum.s=='soil1'||datum.s=='soil2'||datum.s=='soil3'"}], "mark": {"type": "line", "fill": "#c6c6c6", "stroke": "#222", "strokeWidth": 0.8, "clip": true},
    "encoding": {"order": {"value": null}, "detail": {"field": "s"}, "x": {"field": "x", "type": "quantitative", "axis": null}, "y": {"field": "y", "type": "quantitative", "axis": null}}},
   {"transform": [{"filter": "datum.s=='water1'||datum.s=='water2'"}], "mark": {"type": "line", "fill": "#474747", "stroke": "#222", "strokeWidth": 0.8, "clip": true},
    "encoding": {"order": {"value": null}, "detail": {"field": "s"}, "x": {"field": "x", "type": "quantitative", "axis": null}, "y": {"field": "y", "type": "quantitative", "axis": null}}},
   {"transform": [{"filter": "datum.s=='top'||datum.s=='bot'"}], "mark": {"type": "line", "color": "#222", "strokeWidth": 0.9, "clip": true},
    "encoding": {"order": {"value": null}, "detail": {"field": "s"},
     "x": {"field": "x", "type": "quantitative", "axis": {"orient": "bottom", "values": [20, 40], "labels": false, "tickSize": -14, "title": null, "zindex": 1}},
     "y": {"field": "y", "type": "quantitative", "axis": {"orient": "left", "values": [-2.4, -2, -1.6, -1.2, -0.8, -0.4], "labels": false, "tickSize": -15, "title": null, "zindex": 1}}}},
   {"transform": [{"filter": "datum.s=='soft'"}], "mark": {"type": "line", "color": "#222", "strokeWidth": 1.4, "strokeDash": [5, 4], "clip": true},
    "encoding": {"order": {"value": null},
     "x": {"field": "x", "type": "quantitative", "axis": {"orient": "bottom", "values": [10, 30, 50], "labels": false, "tickSize": -9, "title": null, "zindex": 1}},
     "y": {"field": "y", "type": "quantitative", "axis": {"orient": "left", "values": [-2.6, -2.2, -1.8, -1.4, -1, -0.6, -0.2], "labels": false, "tickSize": -15, "title": null, "zindex": 1}}}},
   {"transform": [{"filter": "datum.s=='firm'||datum.s=='firm1'||datum.s=='firm2'||datum.s=='firm3'"}], "mark": {"type": "line", "color": "#222", "strokeWidth": 1.4, "clip": true},
    "encoding": {"order": {"value": null}, "detail": {"field": "s"},
     "x": {"field": "x", "type": "quantitative", "axis": {"orient": "top", "values": [20, 40], "labels": false, "tickSize": -14, "title": null, "zindex": 1}},
     "y": {"field": "y", "type": "quantitative", "axis": {"orient": "right", "values": [-2.4, -2, -1.6, -1.2, -0.8, -0.4], "labels": false, "tickSize": -15, "title": null, "zindex": 1}}}},
   {"transform": [{"filter": "!datum.n"}], "mark": {"type": "point", "shape": "circle", "filled": true, "fill": "white", "stroke": "#222", "strokeWidth": 0.9, "size": 50, "opacity": 1, "clip": true},
    "encoding": {
     "x": {"field": "x", "type": "quantitative", "axis": {"orient": "top", "values": [10, 30, 50], "labels": false, "tickSize": -9, "title": null, "zindex": 1}},
     "y": {"field": "y", "type": "quantitative", "axis": {"orient": "right", "values": [-2.6, -2.2, -1.8, -1.4, -1, -0.6, -0.2], "labels": false, "tickSize": -15, "title": null, "zindex": 1}}}},
   {"data": {"values": [{"t": "F", "x": 50.6, "y": -1.89, "label": "Transect F"}]}, "mark": {"type": "text", "fontSize": 18.5, "color": "#222"},
    "encoding": {"x": {"field": "x", "type": "quantitative", "axis": null}, "y": {"field": "y", "type": "quantitative", "axis": null}, "text": {"field": "label"}}}
  ]},
 {"width": 515, "height": 10, "view": {"stroke": null}, "data": {"values": []},
  "mark": {"type": "point", "filled": true, "opacity": 1, "stroke": "#222", "strokeWidth": 1},
  "encoding": {
   "shape": {"field": "k", "type": "nominal", "scale": {"domain": ["Ice", "Frozen Soil", "Water", "Base of Softer Soil", "Firm Channel Bottom"], "range": ["M-1.43,-0.64H1.43V0.64H-1.43Z", "M-1.43,-0.64H1.43V0.64H-1.43Z", "M-1.43,-0.64H1.43V0.64H-1.43Z", "M-1.43,0H1.43", "M-1.43,0H1.43"]},
    "legend": {"title": null, "orient": "none", "legendX": 722, "legendY": 843, "symbolSize": 784, "symbolStrokeColor": "#222", "symbolStrokeWidth": 1, "symbolOpacity": 1, "labelFontSize": 18.5, "labelOffset": 19, "rowPadding": 4, "labelFont": "DejaVu Sans", "labelColor": "#222", "labelLimit": 300, "encode": {"symbols": {"update": {"stroke": {"value": "#222"}, "strokeWidth": {"value": 1}, "opacity": {"value": 1}}}}}},
   "fill": {"field": "k", "type": "nominal", "scale": {"domain": ["Ice", "Frozen Soil", "Water", "Base of Softer Soil", "Firm Channel Bottom"], "range": ["#dcdcdc", "#c6c6c6", "#474747", "transparent", "transparent"]},
    "legend": {"title": null, "orient": "none", "legendX": 722, "legendY": 843, "symbolSize": 784, "symbolStrokeColor": "#222", "symbolStrokeWidth": 1, "symbolOpacity": 1, "labelFontSize": 18.5, "labelOffset": 19, "rowPadding": 4, "labelFont": "DejaVu Sans", "labelColor": "#222", "labelLimit": 300, "encode": {"symbols": {"update": {"stroke": {"value": "#222"}, "strokeWidth": {"value": 1}, "opacity": {"value": 1}}}}}},
   "strokeDash": {"field": "k", "type": "nominal", "scale": {"domain": ["Ice", "Frozen Soil", "Water", "Base of Softer Soil", "Firm Channel Bottom"], "range": [[1, 0], [1, 0], [1, 0], [4, 3], [1, 0]]},
    "legend": {"title": null, "orient": "none", "legendX": 722, "legendY": 843, "symbolSize": 784, "symbolStrokeColor": "#222", "symbolStrokeWidth": 1, "symbolOpacity": 1, "labelFontSize": 18.5, "labelOffset": 19, "rowPadding": 4, "labelFont": "DejaVu Sans", "labelColor": "#222", "labelLimit": 300, "encode": {"symbols": {"update": {"stroke": {"value": "#222"}, "strokeWidth": {"value": 1}, "opacity": {"value": 1}}}}}}
  }}
 ], "spacing": 12}
], "spacing": 19
}
